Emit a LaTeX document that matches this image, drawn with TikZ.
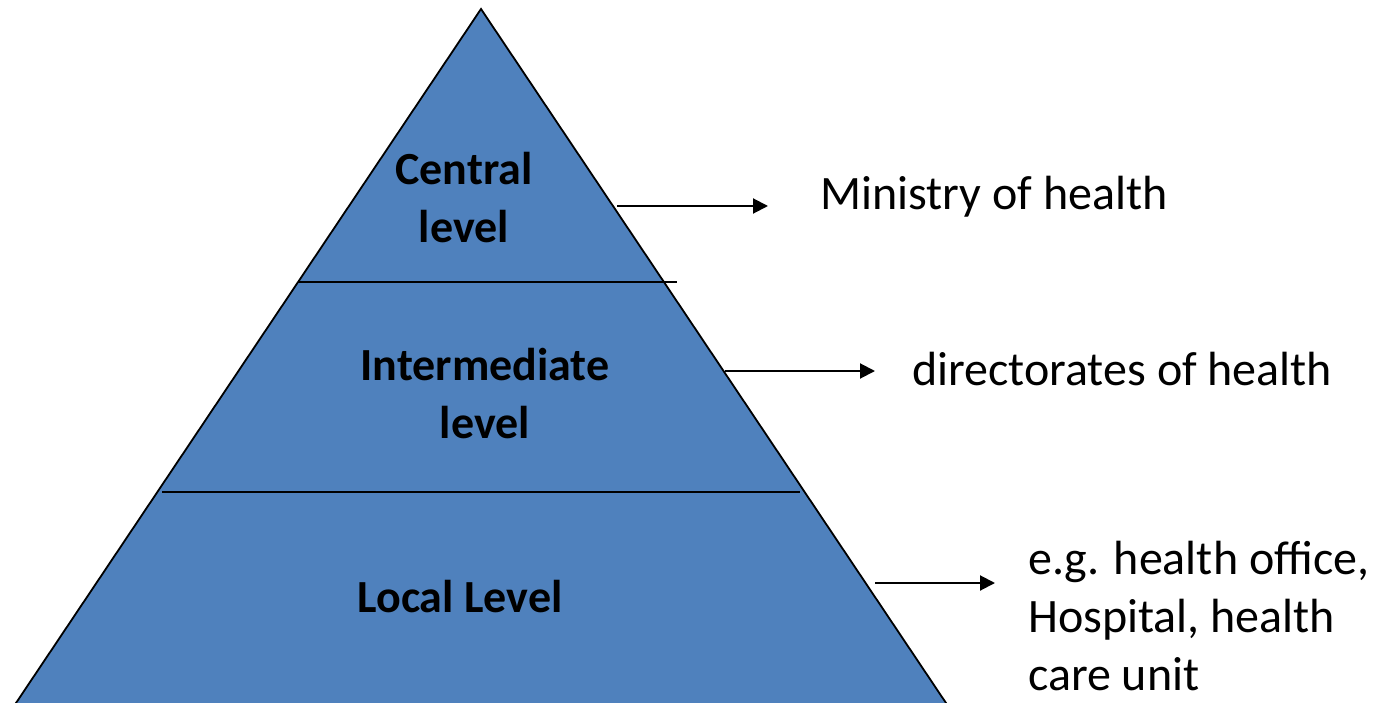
\documentclass[tikz,border=0pt]{standalone}
\usepackage{fontspec}
\setmainfont{Carlito}
\usepackage{xcolor}
\usepackage{tikz}
\usetikzlibrary{arrows.meta, positioning, calc}
\definecolor{tierblue}{HTML}{4F81BD}
\tikzstyle{level} = [font=\fontsize{46}{58}\selectfont\bfseries, align=center, inner sep=0pt]
\tikzstyle{body} = [font=\fontsize{48}{58}\selectfont, align=left, inner sep=0pt]
\tikzstyle{divider} = [line width=2.6pt]
\tikzstyle{arrow} = [line width=2pt, -{Triangle[length=15pt, width=15pt]}]

\begin{document}
\begin{tikzpicture}[x=1pt, y=-1pt]
        \useasboundingbox (0,0) rectangle (1384,703);
        \clip (0,0) rectangle (1384,703);

        % the pyramid, cut off at the bottom edge
        \coordinate (apex) at (481,9);
        \coordinate (baseL) at (4.6,720);
        \coordinate (baseR) at (957.4,720);
        \draw [fill=tierblue, line width=1.8pt, line join=miter] (baseL) -- (apex) -- (baseR);

        % tier dividers
        \coordinate (d1a) at (298,282);
        \coordinate (d1b) at (677,282);
        \coordinate (d2a) at (162,492);
        \coordinate (d2b) at (800,492);
        \draw [divider] (d1a) -- (d1b);
        \draw [divider] (d2a) -- (d2b);

        % tier names
        \node (central) [level] at (464,198) {Central\\level};
        \node (inter) [level] at (485,394) {Intermediate\\level};
        \node (local) [level] at (460,597) {Local Level};

        % what each tier stands for
        \node (ministry) [body, anchor=base west] at (820,210) {Ministry of health};
        \node (director) [body, anchor=base west] at (912,385) {directorates of health};
        \node (office) [body, anchor=north west] at (1028,541) {e.g. health office,\\Hospital, health\\care unit};

        \coordinate (a1s) at (617,206);
        \coordinate (a1e) at (768,206);
        \coordinate (a2s) at (725,371);
        \coordinate (a2e) at (875,371);
        \coordinate (a3s) at (875,583);
        \coordinate (a3e) at (995,583);
        \draw [arrow] (a1s) -- (a1e);
        \draw [arrow] (a2s) -- (a2e);
        \draw [arrow] (a3s) -- (a3e);
    \end{tikzpicture}
\end{document}
